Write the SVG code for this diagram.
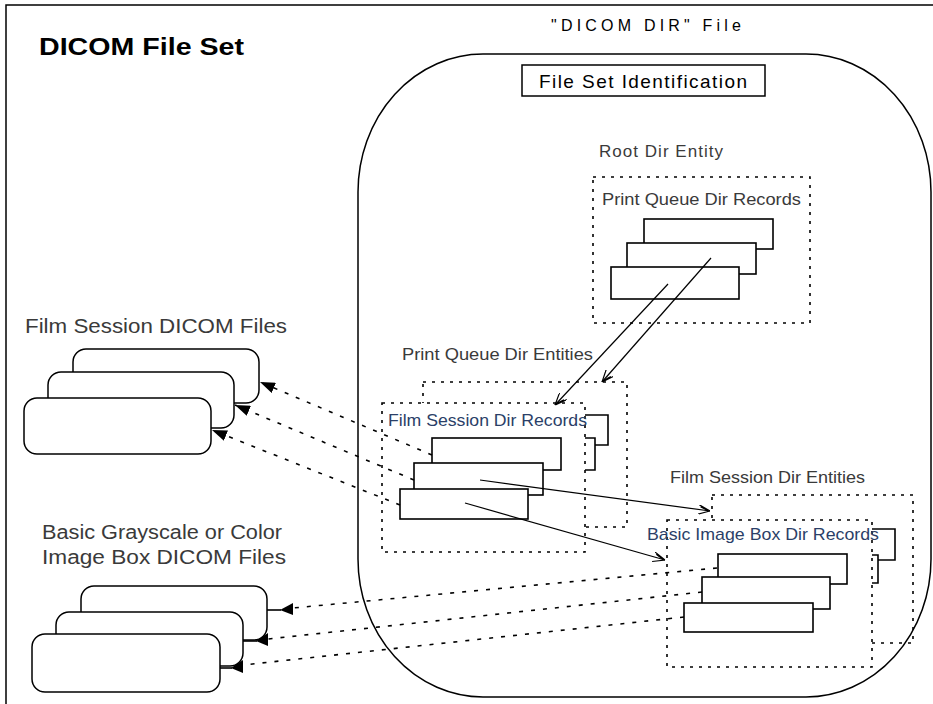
<svg xmlns="http://www.w3.org/2000/svg" width="933" height="704" viewBox="0 0 933 704">
<defs>
<style>
text{font-family:"Liberation Sans",Arial,sans-serif}
.t{fill:#000}
.g{fill:#3a3a3a}
.b{fill:#2b3f68}
.solid{fill:#fff;stroke:#000;stroke-width:1.6}
.dot{fill:none;stroke:#000;stroke-width:1.6;stroke-dasharray:3 6}
.dotw{fill:#fff;stroke:#000;stroke-width:1.6;stroke-dasharray:3 6}
.br{fill:none;stroke:#000;stroke-width:1.6}
.file{fill:#fff;stroke:#000;stroke-width:1.5}
.ln{fill:none;stroke:#000;stroke-width:1.2}
.dl{fill:none;stroke:#000;stroke-width:1.6;stroke-dasharray:4 8}
</style>
<marker id="open" viewBox="0 0 12 10" refX="12" refY="5" markerWidth="12" markerHeight="10" markerUnits="userSpaceOnUse" orient="auto">
<path d="M0,0 L12,5 L0,10 M2,2 L10,5" fill="none" stroke="#000" stroke-width="1.2"/>
</marker>
<marker id="fill" viewBox="0 0 15 11" refX="15" refY="5.5" markerWidth="15" markerHeight="11" markerUnits="userSpaceOnUse" orient="auto">
<path d="M0,0 L15,5.5 L0,11 Z" fill="#000"/>
</marker>
</defs>
<rect x="0" y="0" width="933" height="704" fill="#fff"/>
<g id="frame">
<path d="M6,710 V5 H940" fill="none" stroke="#000" stroke-width="1.5"/>
<text class="t" x="39" y="55" font-size="23" font-weight="bold" textLength="205" lengthAdjust="spacingAndGlyphs">DICOM File Set</text>
</g>
<g id="dicomdir">
<rect x="358" y="54" width="573" height="643" rx="125" ry="138" fill="none" stroke="#000" stroke-width="1.5"/>
<text class="t" x="551" y="31" font-size="16" textLength="190" lengthAdjust="spacing">"DICOM DIR" File</text>
</g>
<g id="fileset-id">
<rect x="522" y="65" width="243" height="31" fill="#fff" stroke="#000" stroke-width="1.5"/>
<text class="t" x="539" y="88" font-size="19" textLength="208" lengthAdjust="spacing">File Set Identification</text>
</g>
<g id="root-dir-entity">
<text class="g" x="599" y="157" font-size="17" textLength="124" lengthAdjust="spacing">Root Dir Entity</text>
<rect class="dot" x="593" y="177" width="217" height="146"/>
<text class="g" x="602" y="205" font-size="17" textLength="199" lengthAdjust="spacingAndGlyphs">Print Queue Dir Records</text>
<rect class="solid" x="644" y="219" width="129" height="30"/>
<rect class="solid" x="627" y="243" width="129" height="31"/>
<rect class="solid" x="611" y="267" width="128" height="32"/>
</g>
<g id="print-queue-dir-entities">
<text class="g" x="402" y="360" font-size="17" textLength="191" lengthAdjust="spacingAndGlyphs">Print Queue Dir Entities</text>
<rect class="dot" x="423" y="382" width="204" height="145"/>
<path class="br" d="M585,415 H608 V445 H595 M585,438 H595 V470 H585"/>
<rect class="dotw" x="382" y="403" width="203" height="149"/>
<text class="b" x="388" y="426" font-size="17" textLength="199" lengthAdjust="spacingAndGlyphs">Film Session Dir Records</text>
<rect class="solid" x="432" y="438" width="129" height="32"/>
<rect class="solid" x="414" y="463" width="129" height="32"/>
<rect class="solid" x="400" y="489" width="128" height="30"/>
</g>
<g id="film-session-dir-entities">
<text class="g" x="670" y="483" font-size="17" textLength="195" lengthAdjust="spacingAndGlyphs">Film Session Dir Entities</text>
<rect class="dot" x="712" y="495" width="201" height="148"/>
<path class="br" d="M872,529 H895 V560 H878 M872,555 H878 V583 H872"/>
<rect class="dotw" x="667" y="520" width="205" height="147"/>
<text class="b" x="647" y="540" font-size="17" textLength="232" lengthAdjust="spacingAndGlyphs">Basic Image Box Dir Records</text>
<rect class="solid" x="718" y="554" width="129" height="30"/>
<rect class="solid" x="702" y="577" width="128" height="32"/>
<rect class="solid" x="684" y="603" width="129" height="29"/>
</g>
<g id="film-session-files">
<text class="g" x="25" y="333" font-size="20" textLength="262" lengthAdjust="spacingAndGlyphs">Film Session DICOM Files</text>
<rect class="file" x="73" y="349" width="186" height="54" rx="13"/>
<rect class="file" x="48" y="372" width="186" height="56" rx="13"/>
<rect class="file" x="24" y="398" width="187" height="56" rx="13"/>
</g>
<g id="image-box-files">
<text class="g" x="42" y="539" font-size="20" textLength="240" lengthAdjust="spacingAndGlyphs">Basic Grayscale or Color</text>
<text class="g" x="42" y="564" font-size="20" textLength="244" lengthAdjust="spacingAndGlyphs">Image Box DICOM Files</text>
<rect class="file" x="81" y="586" width="186" height="54" rx="13"/>
<rect class="file" x="56" y="612" width="187" height="54" rx="13"/>
<rect class="file" x="32" y="634" width="188" height="58" rx="13"/>
</g>
<g id="connectors">
<line class="ln" x1="668" y1="284" x2="555" y2="405" marker-end="url(#open)"/>
<line class="ln" x1="711" y1="258" x2="602" y2="382" marker-end="url(#open)"/>
<line class="ln" x1="480" y1="480" x2="710" y2="511" marker-end="url(#open)"/>
<line class="ln" x1="465" y1="503" x2="665" y2="560" marker-end="url(#open)"/>
<line class="dl" x1="432" y1="455" x2="260" y2="382" marker-end="url(#fill)"/>
<line class="dl" x1="414" y1="480" x2="235" y2="405" marker-end="url(#fill)"/>
<line class="dl" x1="400" y1="505" x2="212" y2="430" marker-end="url(#fill)"/>
<line class="dl" x1="717" y1="568" x2="293" y2="608"/>
<path d="M293,603 V615 L280,610 Z" fill="#000"/>
<line class="br" x1="267" y1="610" x2="281" y2="610"/>
<line class="dl" x1="702" y1="592" x2="268" y2="639"/>
<path d="M268,633 V646 L256,641 Z" fill="#000"/>
<line class="br" x1="243" y1="641" x2="257" y2="641"/>
<line class="dl" x1="684" y1="617" x2="243" y2="665"/>
<path d="M243,660 V673 L231,668 Z" fill="#000"/>
<line class="br" x1="220" y1="668" x2="232" y2="668"/>
</g>
</svg>
